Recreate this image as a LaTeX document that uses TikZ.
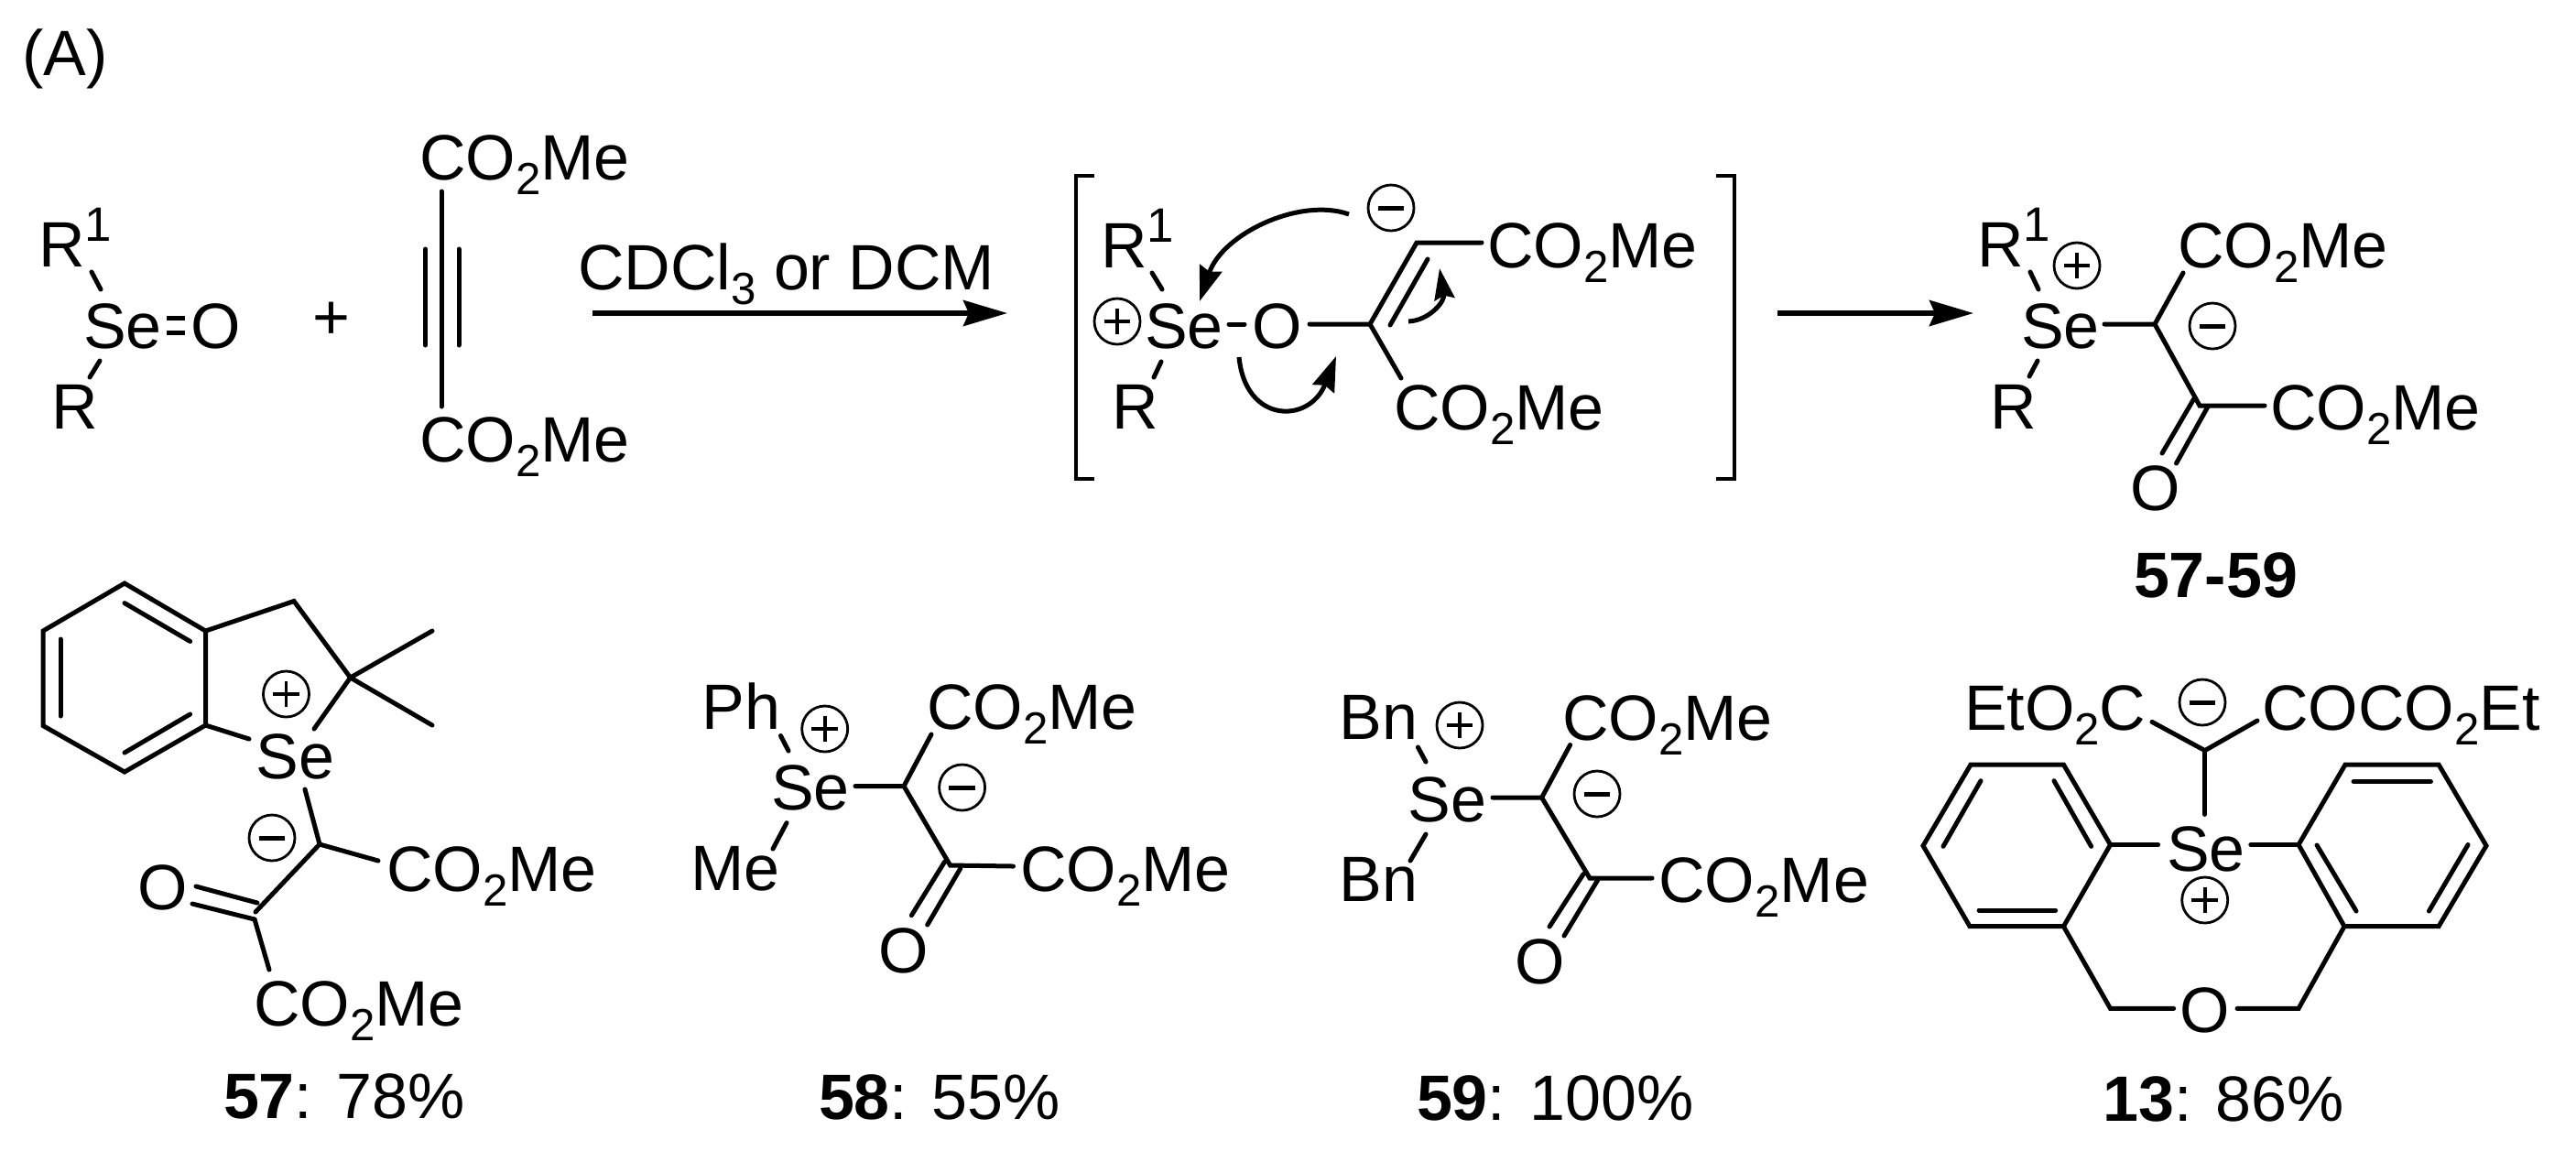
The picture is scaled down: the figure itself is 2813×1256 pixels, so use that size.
\documentclass[tikz,border=0pt]{standalone}
\usepackage{fontspec}
\setmainfont{Liberation Sans}
\usetikzlibrary{arrows.meta}
\newcommand{\chemsub}[1]{\raisebox{-4pt}{\fontsize{12.3}{12}\selectfont #1}}
\newcommand{\chemsup}[1]{\raisebox{6.8pt}{\fontsize{13.2}{13}\selectfont #1}}
\tikzset{
  txt/.style={anchor=base west,inner sep=0pt,outer sep=0pt,xshift=-1pt,font=\fontsize{17.5}{20}\selectfont},
  bond/.style={line width=1.25pt,line cap=round,line join=miter},
  brk/.style={line width=1.2pt,line join=miter},
  rxn/.style={line width=1.4pt,-{Stealth[length=12pt,width=7pt,inset=1.5pt]}},
  curv/.style={line width=1.25pt,-{Stealth[length=9.5pt,width=6.3pt,inset=1pt]}},
  curvs/.style={line width=1.25pt,-{Stealth[length=8.5pt,width=5.5pt,inset=1pt]}},
  pluscirc/.style={circle,draw,line width=0.7pt,minimum size=12.5pt,inner sep=0pt,
    path picture={\draw[line width=0.9pt]
      ([xshift=-3.6pt]path picture bounding box.center) -- ([xshift=3.6pt]path picture bounding box.center)
      ([yshift=-3.6pt]path picture bounding box.center) -- ([yshift=3.6pt]path picture bounding box.center);}},
  minuscirc/.style={circle,draw,line width=0.7pt,minimum size=12.5pt,inner sep=0pt,
    path picture={\draw[line width=1.25pt]
      ([xshift=-3.6pt]path picture bounding box.center) -- ([xshift=3.6pt]path picture bounding box.center);}}
}
\begin{document}
\begin{tikzpicture}[x=0.25pt,y=-0.25pt]
\fill[white] (0,0) rectangle (2813,1256);
\useasboundingbox (0,0) rectangle (2813,1256);

\node[txt] (lA) at (28,82) {(A)};

% ---- selenoxide
\node[txt] (sR1) at (46,291) {R\chemsup{1}};
\node[txt] (sSe) at (95,380) {Se};
\node[txt] (sO) at (212,380) {O};
\node[txt] (sR) at (60,468) {R};
\coordinate (s1) at (100,297); \coordinate (s2) at (110,316);
\coordinate (s3) at (109,394); \coordinate (s4) at (98,412);
\coordinate (s5) at (182,347); \coordinate (s6) at (202,347);
\coordinate (s7) at (182,363); \coordinate (s8) at (202,363);
\draw[bond] (s1) -- (s2);
\draw[bond] (s3) -- (s4);
\draw[bond,line cap=butt] (s5) -- (s6);
\draw[bond,line cap=butt] (s7) -- (s8);
\node[txt] (plus) at (345,370) {+};

% ---- alkyne
\node[txt] (aT) at (462,196) {CO\chemsub{2}Me};
\node[txt] (aB) at (462,504) {CO\chemsub{2}Me};
\coordinate (a1) at (482,209); \coordinate (a2) at (482,444);
\coordinate (a3) at (464.5,272); \coordinate (a4) at (464.5,377);
\coordinate (a5) at (501,272); \coordinate (a6) at (501,377);
\draw[bond] (a1) -- (a2);
\draw[bond] (a3) -- (a4);
\draw[bond] (a5) -- (a6);

% ---- first arrow
\node[txt] (cond) at (635,316) {CDCl\chemsub{3} or DCM};
\coordinate (ar1) at (647,342); \coordinate (ar2) at (1100,342);
\draw[rxn] (ar1) -- (ar2);

% ---- intermediate
\coordinate (bl1) at (1195,192); \coordinate (bl2) at (1175,192);
\coordinate (bl3) at (1175,523); \coordinate (bl4) at (1195,523);
\coordinate (br1) at (1874,192); \coordinate (br2) at (1894,192);
\coordinate (br3) at (1894,523); \coordinate (br4) at (1874,523);
\draw[brk] (bl1) -- (bl2) -- (bl3) -- (bl4);
\draw[brk] (br1) -- (br2) -- (br3) -- (br4);
\node[txt] (iR1) at (1206,292) {R\chemsup{1}};
\node[pluscirc] (iP) at (1220,351) {};
\node[txt] (iSe) at (1254,380) {Se};
\node[txt] (iO) at (1371,380) {O};
\node[txt] (iR) at (1218,468) {R};
\node[minuscirc] (iM) at (1519,227) {};
\node[txt] (iCa) at (1628,292) {CO\chemsub{2}Me};
\node[txt] (iCb) at (1526,469) {CO\chemsub{2}Me};
\coordinate (i1) at (1258,298); \coordinate (i2) at (1269,316);
\coordinate (i3) at (1268,395); \coordinate (i4) at (1260,412);
\coordinate (i5) at (1342,354); \coordinate (i6) at (1359,354);
\coordinate (i7) at (1430,354); \coordinate (iC1) at (1496,354);
\coordinate (iC2) at (1547,265); \coordinate (i8) at (1618,265);
\coordinate (i9) at (1518,355); \coordinate (i10) at (1559,283);
\coordinate (i11) at (1530,413);
\draw[bond] (i1) -- (i2);
\draw[bond] (i3) -- (i4);
\draw[bond] (i5) -- (i6);
\draw[bond] (i7) -- (iC1) -- (iC2) -- (i8);
\draw[bond] (i9) -- (i10);
\draw[bond] (iC1) -- (i11);
% curved arrows
\coordinate (c1s) at (1473,234); \coordinate (c1e) at (1310,329);
\coordinate (c2s) at (1353,390); \coordinate (c2e) at (1459,389);
\coordinate (c3s) at (1538,351); \coordinate (c3e) at (1572,293);
\draw[curv] (c1s) .. controls (1420,215) and (1335,255) .. (c1e);
\draw[curv] (c2s) .. controls (1360,463) and (1430,463) .. (c2e);
\draw[curvs] (c3s) .. controls (1560,350) and (1578,330) .. (c3e);

% ---- second arrow
\coordinate (ar3) at (1941,342); \coordinate (ar4) at (2155,342);
\draw[rxn] (ar3) -- (ar4);

% ---- product
\node[txt] (pR1) at (2163,291) {R\chemsup{1}};
\node[pluscirc] (pP) at (2268,290) {};
\node[txt] (pSe) at (2211,380) {Se};
\node[txt] (pR) at (2177,468) {R};
\node[minuscirc] (pM) at (2416,356) {};
\node[txt] (pCa) at (2382,292) {CO\chemsub{2}Me};
\node[txt] (pCb) at (2483,469) {CO\chemsub{2}Me};
\node[txt] (pO) at (2330,557) {O};
\node[txt,font=\fontsize{17.5}{20}\selectfont\bfseries] (plab) at (2334,652) {57-59};
\coordinate (p1) at (2217,297); \coordinate (p2) at (2226,316);
\coordinate (p3) at (2225,394); \coordinate (p4) at (2216,411);
\coordinate (p5) at (2298,354); \coordinate (pC1) at (2353,354);
\coordinate (p6) at (2384,298); \coordinate (pC2) at (2402,443);
\coordinate (p7) at (2473,443);
\coordinate (p8) at (2396,435); \coordinate (p9) at (2361,495);
\coordinate (p10) at (2411,444); \coordinate (p11) at (2376.5,506);
\draw[bond] (p1) -- (p2);
\draw[bond] (p3) -- (p4);
\draw[bond] (p5) -- (pC1) -- (p6);
\draw[bond] (pC1) -- (pC2) -- (p7);
\draw[bond] (p8) -- (p9);
\draw[bond] (p10) -- (p11);

% ---- 57
\coordinate (b1) at (136,637); \coordinate (b2) at (224.5,689);
\coordinate (b3) at (224.5,792); \coordinate (b4) at (136,843);
\coordinate (b5) at (47,792.5); \coordinate (b6) at (47,689);
\draw[bond] (b1) -- (b2) -- (b3) -- (b4) -- (b5) -- (b6) -- cycle;
\coordinate (b7) at (136,658.6); \coordinate (b8) at (207.6,700.4);
\coordinate (b9) at (66,698); \coordinate (b10) at (66,782);
\coordinate (b11) at (136,822); \coordinate (b12) at (207.6,780);
\draw[bond] (b7) -- (b8);
\draw[bond] (b9) -- (b10);
\draw[bond] (b11) -- (b12);
\coordinate (b13) at (321,656.5); \coordinate (b14) at (382.6,740);
\coordinate (b15) at (472,689); \coordinate (b16) at (472,792);
\coordinate (b17) at (343,796); \coordinate (b18) at (272,807);
\draw[bond] (b2) -- (b13) -- (b14) -- (b15);
\draw[bond] (b14) -- (b16);
\draw[bond] (b14) -- (b17);
\draw[bond] (b3) -- (b18);
\node[pluscirc] (bP) at (312.5,758) {};
\node[txt] (bSe) at (283.5,850) {Se};
\node[minuscirc] (bM) at (297,915) {};
\coordinate (b19) at (333,862); \coordinate (b20) at (349,922);
\coordinate (b21) at (413,940); \coordinate (b22) at (279,996);
\coordinate (b23) at (294,1059);
\coordinate (b24) at (214,968); \coordinate (b25) at (281,986);
\coordinate (b26) at (210,987); \coordinate (b27) at (278,1004);
\draw[bond] (b19) -- (b20) -- (b21);
\draw[bond] (b20) -- (b22);
\draw[bond] (b27) -- (b23);
\draw[bond] (b24) -- (b25);
\draw[bond] (b26) -- (b27);
\node[txt] (bCa) at (426,973.6) {CO\chemsub{2}Me};
\node[txt] (bCb) at (281,1120) {CO\chemsub{2}Me};
\node[txt] (bO) at (154,993) {O};
\node[txt] (blab) at (248,1221) {\textbf{57}: 78\%};

% ---- 58
\node[txt] (dPh) at (770.6,796) {Ph};
\node[pluscirc] (dP) at (900.7,796) {};
\node[txt] (dSe) at (846,884.4) {Se};
\node[txt] (dMe) at (758.6,972) {Me};
\node[minuscirc] (dM) at (1050.6,860) {};
\node[txt] (dCa) at (1016,796) {CO\chemsub{2}Me};
\node[txt] (dCb) at (1118,973) {CO\chemsub{2}Me};
\node[txt] (dO) at (963,1062) {O};
\node[txt] (dlab) at (898,1222) {\textbf{58}: 55\%};
\coordinate (d1) at (852.5,803.5); \coordinate (d2) at (861,820);
\coordinate (d3) at (859,898.6); \coordinate (d4) at (844,927);
\coordinate (d5) at (934,858.5); \coordinate (dC1) at (987,858.5);
\coordinate (d6) at (1017,802); \coordinate (dC2) at (1037.6,945);
\coordinate (d7) at (1106.5,946);
\coordinate (d8) at (1031.6,941); \coordinate (d9) at (995.4,999.6);
\coordinate (d10) at (1049,948); \coordinate (d11) at (1012.7,1010);
\draw[bond] (d1) -- (d2);
\draw[bond] (d3) -- (d4);
\draw[bond] (d5) -- (dC1) -- (d6);
\draw[bond] (dC1) -- (dC2) -- (d7);
\draw[bond] (d8) -- (d9);
\draw[bond] (d10) -- (d11);

% ---- 59
\node[txt] (eBa) at (1466.6,807.4) {Bn};
\node[pluscirc] (eP) at (1594,792) {};
\node[txt] (eSe) at (1541.5,897) {Se};
\node[txt] (eBb) at (1466.6,984.8) {Bn};
\node[minuscirc] (eM) at (1744,867) {};
\node[txt] (eCa) at (1710,808) {CO\chemsub{2}Me};
\node[txt] (eCb) at (1815.4,985.5) {CO\chemsub{2}Me};
\node[txt] (eO) at (1658.7,1074) {O};
\node[txt] (elab) at (1551,1223) {\textbf{59}: 100\%};
\coordinate (e1) at (1548.4,816); \coordinate (e2) at (1557,832);
\coordinate (e3) at (1557,911); \coordinate (e4) at (1540,940);
\coordinate (e5) at (1630,871); \coordinate (eC1) at (1683.6,871);
\coordinate (e6) at (1714.6,813.5); \coordinate (eC2) at (1736,959);
\coordinate (e7) at (1804,959);
\coordinate (e8) at (1729,954.6); \coordinate (e9) at (1692,1012);
\coordinate (e10) at (1745,960.6); \coordinate (e11) at (1708,1022);
\draw[bond] (e1) -- (e2);
\draw[bond] (e3) -- (e4);
\draw[bond] (e5) -- (eC1) -- (e6);
\draw[bond] (eC1) -- (eC2) -- (e7);
\draw[bond] (e8) -- (e9);
\draw[bond] (e10) -- (e11);

% ---- 13
\node[txt] (fCa) at (2149,797) {EtO\chemsub{2}C};
\node[minuscirc] (fM) at (2405,767) {};
\node[txt] (fCb) at (2474,797) {COCO\chemsub{2}Et};
\node[txt] (fSe) at (2370,951) {Se};
\node[pluscirc] (fP) at (2407.7,983) {};
\node[txt] (fO) at (2384,1127.5) {O};
\node[txt] (flab) at (2300.6,1224.4) {\textbf{13}: 86\%};
\coordinate (f1) at (2350,788.4); \coordinate (fC) at (2407.7,819.6);
\coordinate (f2) at (2465,787); \coordinate (f3) at (2407.7,889.4);
\draw[bond] (f1) -- (fC) -- (f2);
\draw[bond] (fC) -- (f3);
\coordinate (g1) at (2152,835); \coordinate (g2) at (2253.4,835);
\coordinate (g3) at (2304.5,922.5); \coordinate (g4) at (2253.4,1011.7);
\coordinate (g5) at (2151,1011.7); \coordinate (g6) at (2100,923.6);
\draw[bond] (g1) -- (g2) -- (g3) -- (g4) -- (g5) -- (g6) -- cycle;
\coordinate (g7) at (2163,852.7); \coordinate (g8) at (2122,924.3);
\coordinate (g9) at (2243,852.7); \coordinate (g10) at (2283.6,924.3);
\coordinate (g11) at (2161,994); \coordinate (g12) at (2244.6,994);
\draw[bond] (g7) -- (g8);
\draw[bond] (g9) -- (g10);
\draw[bond] (g11) -- (g12);
\coordinate (h1) at (2510,922.5); \coordinate (h2) at (2561,835);
\coordinate (h3) at (2663,835); \coordinate (h4) at (2715,923.6);
\coordinate (h5) at (2663,1011.7); \coordinate (h6) at (2560,1011.7);
\draw[bond] (h1) -- (h2) -- (h3) -- (h4) -- (h5) -- (h6) -- cycle;
\coordinate (h7) at (2570,853.4); \coordinate (h8) at (2654.4,853.4);
\coordinate (h9) at (2695,922.5); \coordinate (h10) at (2652.4,995);
\coordinate (h11) at (2530,923); \coordinate (h12) at (2573,995);
\draw[bond] (h7) -- (h8);
\draw[bond] (h9) -- (h10);
\draw[bond] (h11) -- (h12);
\coordinate (f4) at (2356.6,922.5); \coordinate (f5) at (2457.8,922.5);
\draw[bond] (g3) -- (f4);
\draw[bond] (f5) -- (h1);
\coordinate (f6) at (2304.5,1101.4); \coordinate (f7) at (2373.6,1101.4);
\coordinate (f8) at (2510,1101.4); \coordinate (f9) at (2443,1101.4);
\draw[bond] (g4) -- (f6) -- (f7);
\draw[bond] (h6) -- (f8) -- (f9);
\end{tikzpicture}
\end{document}
